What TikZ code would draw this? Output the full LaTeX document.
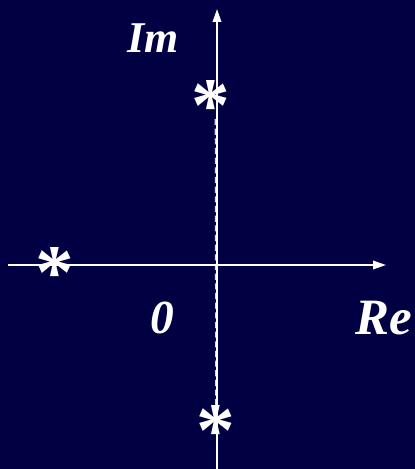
\documentclass[tikz,border=0pt]{standalone}
\usepackage{fontspec}
\setmainfont{Liberation Serif}
\usetikzlibrary{arrows.meta}
\definecolor{navy}{RGB}{0,0,66}

\begin{document}
\begin{tikzpicture}[
    x=0.02cm, y=-0.02cm,
    axis/.style={draw=white, line width=1.1pt, -{Triangle[length=0.26cm, width=0.17cm]}},
    pole/.style={text=white, inner sep=0pt, text depth=0pt, font=\fontsize{44}{44}\bfseries\selectfont},
    lbl/.style={text=white, inner sep=0pt, font=\fontsize{25}{25}\bfseries\itshape\selectfont},
    guide/.style={draw=white!85!navy, line width=0.9pt, dash pattern=on 3.5pt off 2pt}
]
    \fill[navy] (0,0) rectangle (415,469);
    \useasboundingbox (0,0) rectangle (415,469);

    \coordinate (ybot) at (217,469);
    \coordinate (ytop) at (217,9);
    \coordinate (xleft) at (8,265);
    \coordinate (xright) at (386,265);

    \node[pole] (p1) at (211,106) {*};
    \node[pole] (p2) at (55,273) {*};
    \node[pole] (p3) at (216,431) {*};

    \draw[guide] ([xshift=4.5*0.02cm, yshift=-0.26cm]p1.center) -- ([yshift=0.45cm]p3.center);

    \draw[axis] (ybot) -- (ytop);
    \draw[axis] (xleft) -- (xright);

    \node[lbl] (im) at (153,38) {Im};
    \node[lbl, font=\fontsize{29}{29}\bfseries\itshape\selectfont] (re) at (384,318) {Re};
    \node[lbl, font=\fontsize{27}{27}\bfseries\itshape\selectfont] (zero) at (162,318) {0};
\end{tikzpicture}
\end{document}
